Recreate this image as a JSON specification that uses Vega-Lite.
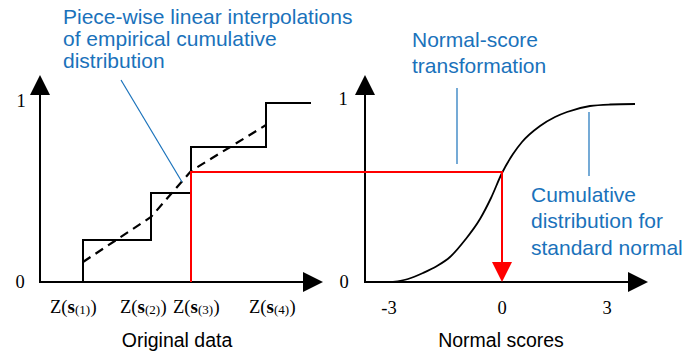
{
  "$schema": "https://vega.github.io/schema/vega-lite/v6.json",
  "width": 689,
  "height": 351,
  "padding": 0,
  "autosize": {"type": "fit", "contains": "padding"},
  "config": {"view": {"stroke": null}},
  "datasets": {
    "axes": [
      {"x": 40, "y": 283, "x2": 40, "y2": 92},
      {"x": 39, "y": 282, "x2": 305, "y2": 282},
      {"x": 365, "y": 283, "x2": 365, "y2": 92},
      {"x": 364, "y": 282, "x2": 630, "y2": 282}
    ],
    "steps": [
      {"i": 1, "x": 83, "y": 282},
      {"i": 2, "x": 83, "y": 240},
      {"i": 3, "x": 151, "y": 240},
      {"i": 4, "x": 151, "y": 193},
      {"i": 5, "x": 191, "y": 193},
      {"i": 6, "x": 191, "y": 147},
      {"i": 7, "x": 266, "y": 147},
      {"i": 8, "x": 266, "y": 103},
      {"i": 9, "x": 311, "y": 103}
    ],
    "interp": [
      {"x": 83, "y": 262},
      {"x": 151, "y": 217},
      {"x": 191, "y": 171},
      {"x": 266, "y": 125}
    ],
    "redpath": [
      {"i": 1, "x": 191, "y": 282},
      {"i": 2, "x": 191, "y": 172},
      {"i": 3, "x": 502, "y": 172},
      {"i": 4, "x": 502, "y": 265}
    ],
    "curve": [
      {"x": 393, "y": 282},
      {"x": 408, "y": 279},
      {"x": 423, "y": 273},
      {"x": 437, "y": 266},
      {"x": 450, "y": 257},
      {"x": 465, "y": 240},
      {"x": 480, "y": 219},
      {"x": 491, "y": 198},
      {"x": 502, "y": 173},
      {"x": 513, "y": 154},
      {"x": 522, "y": 142},
      {"x": 540, "y": 126},
      {"x": 555, "y": 117},
      {"x": 567, "y": 112},
      {"x": 590, "y": 106},
      {"x": 610, "y": 104.5},
      {"x": 635, "y": 104}
    ],
    "arrowsUp": [{"x": 40, "y": 85}, {"x": 365, "y": 85}],
    "arrowsRight": [{"x": 313, "y": 282}, {"x": 638, "y": 282}],
    "arrowsDown": [{"x": 502, "y": 272}],
    "leaders": [
      {"x": 121, "y": 80, "x2": 182, "y2": 182},
      {"x": 457, "y": 88, "x2": 457, "y2": 164},
      {"x": 589, "y": 112, "x2": 589, "y2": 176}
    ],
    "blueText": [
      {"x": 63, "y": 23.5, "t": "Piece-wise linear interpolations"},
      {"x": 63, "y": 45.5, "t": "of empirical cumulative"},
      {"x": 63, "y": 67.5, "t": "distribution"},
      {"x": 412, "y": 47, "t": "Normal-score"},
      {"x": 412, "y": 73, "t": "transformation"},
      {"x": 531, "y": 202, "t": "Cumulative"},
      {"x": 531, "y": 228, "t": "distribution for"},
      {"x": 531, "y": 255, "t": "standard normal"}
    ],
    "titles": [
      {"x": 177, "y": 347, "t": "Original data"},
      {"x": 501, "y": 347, "t": "Normal scores"}
    ],
    "ticks": [
      {"x": 21, "y": 107, "t": "1"},
      {"x": 20, "y": 288, "t": "0"},
      {"x": 343, "y": 105, "t": "1"},
      {"x": 344, "y": 288, "t": "0"},
      {"x": 389, "y": 314, "t": "-3"},
      {"x": 502, "y": 314, "t": "0"},
      {"x": 607, "y": 314, "t": "3"}
    ],
    "zlabels": [
      {"x": 50, "y": 313, "sub": "(1)"},
      {"x": 120, "y": 313, "sub": "(2)"},
      {"x": 173, "y": 313, "sub": "(3)"},
      {"x": 249, "y": 313, "sub": "(4)"}
    ]
  },
  "encoding": {
    "x": {"field": "x", "type": "quantitative", "scale": {"domain": [0, 689], "nice": false, "zero": false}, "axis": null},
    "y": {"field": "y", "type": "quantitative", "scale": {"domain": [0, 351], "nice": false, "zero": false, "reverse": true}, "axis": null}
  },
  "layer": [
    {
      "data": {"name": "axes"},
      "mark": {"type": "rule", "color": "black", "strokeWidth": 2},
      "encoding": {"x2": {"field": "x2"}, "y2": {"field": "y2"}}
    },
    {
      "data": {"name": "steps"},
      "mark": {"type": "line", "color": "black", "strokeWidth": 2},
      "encoding": {"order": {"field": "i", "type": "quantitative"}}
    },
    {
      "data": {"name": "interp"},
      "mark": {"type": "line", "color": "black", "strokeWidth": 2.2, "strokeDash": [9, 6]},
      "encoding": {}
    },
    {
      "data": {"name": "curve"},
      "mark": {"type": "line", "color": "black", "strokeWidth": 1.8, "interpolate": "monotone"},
      "encoding": {}
    },
    {
      "data": {"name": "redpath"},
      "mark": {"type": "line", "color": "#ff0000", "strokeWidth": 2},
      "encoding": {"order": {"field": "i", "type": "quantitative"}}
    },
    {
      "data": {"name": "arrowsUp"},
      "mark": {"type": "point", "shape": "M0,-1L1,1L-1,1Z", "size": 400, "filled": true, "color": "black", "opacity": 1}
    },
    {
      "data": {"name": "arrowsRight"},
      "mark": {"type": "point", "shape": "M1,0L-1,-1L-1,1Z", "size": 400, "filled": true, "color": "black", "opacity": 1}
    },
    {
      "data": {"name": "arrowsDown"},
      "mark": {"type": "point", "shape": "M0,1L-1,-1L1,-1Z", "size": 400, "filled": true, "color": "#ff0000", "opacity": 1}
    },
    {
      "data": {"name": "leaders"},
      "mark": {"type": "rule", "color": "#1a72bb", "strokeWidth": 1.2},
      "encoding": {"x2": {"field": "x2"}, "y2": {"field": "y2"}}
    },
    {
      "data": {"name": "blueText"},
      "mark": {"type": "text", "align": "left", "baseline": "alphabetic", "font": "Liberation Sans", "fontSize": 21, "color": "#1a72bb"},
      "encoding": {"text": {"field": "t"}}
    },
    {
      "data": {"name": "titles"},
      "mark": {"type": "text", "align": "center", "baseline": "alphabetic", "font": "Liberation Sans", "fontSize": 19.5, "color": "black"},
      "encoding": {"text": {"field": "t"}}
    },
    {
      "data": {"name": "ticks"},
      "mark": {"type": "text", "align": "center", "baseline": "alphabetic", "font": "Liberation Serif", "fontSize": 18.5, "color": "black"},
      "encoding": {"text": {"field": "t"}}
    },
    {
      "data": {"name": "zlabels"},
      "mark": {"type": "text", "align": "left", "baseline": "alphabetic", "font": "Liberation Serif", "fontSize": 18.5, "color": "black", "text": "Z("}
    },
    {
      "data": {"name": "zlabels"},
      "mark": {"type": "text", "align": "left", "baseline": "alphabetic", "font": "Liberation Serif", "fontSize": 19, "fontWeight": "bold", "color": "black", "text": "s", "dx": 17.5}
    },
    {
      "data": {"name": "zlabels"},
      "mark": {"type": "text", "align": "left", "baseline": "alphabetic", "font": "Liberation Serif", "fontSize": 13, "color": "black", "dx": 25, "dy": 1},
      "encoding": {"text": {"field": "sub"}}
    },
    {
      "data": {"name": "zlabels"},
      "mark": {"type": "text", "align": "left", "baseline": "alphabetic", "font": "Liberation Serif", "fontSize": 18.5, "color": "black", "text": ")", "dx": 40.5}
    }
  ]
}
